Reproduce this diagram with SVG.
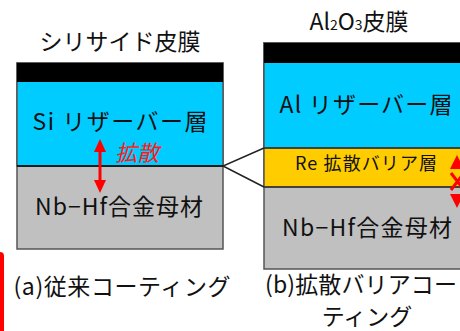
<svg xmlns="http://www.w3.org/2000/svg" width="460" height="331" viewBox="0 0 460 331">
<style>
text{font-family:"Noto Sans CJK JP","Liberation Sans",sans-serif;fill:#111;}
.t{font-size:23px;}
.box{stroke:#555;stroke-width:1.5;}
.red{fill:#ff0000;}
</style>
<rect width="460" height="331" fill="#fff"/>
<g id="left-stack">
  <rect class="box" x="17" y="63" width="206" height="186" fill="#c0c0c0"/>
  <rect x="17" y="63" width="206" height="103" fill="#00ccff" stroke="#555" stroke-width="1.5"/>
  <rect x="17" y="63" width="206" height="19" fill="#000"/>
  <line x1="17" y1="166" x2="223" y2="166" stroke="#000" stroke-width="1.5"/>
  <text class="t" x="120" y="50" text-anchor="middle">シリサイド皮膜</text>
  <text class="t" x="120" y="130" text-anchor="middle" textLength="175">Si リザーバー層</text>
  <text class="t" x="119" y="215" text-anchor="middle" textLength="168">Nb−Hf合金母材</text>
  <text class="t" x="122" y="295" text-anchor="middle" textLength="217">(a)従来コーティング</text>
</g>
<g id="left-diffusion">
  <line x1="100" y1="150" x2="100" y2="182" stroke="#ff0000" stroke-width="3"/>
  <polygon class="red" points="100,139 94,152 106,152"/>
  <polygon class="red" points="100,193 94,180 106,180"/>
  <text x="137" y="161" text-anchor="middle" font-size="22" font-style="italic" style="fill:#ff1a1a">拡散</text>
</g>
<g id="right-stack">
  <rect class="box" x="264" y="43" width="210" height="226" fill="#c0c0c0"/>
  <rect x="264" y="43" width="210" height="144" fill="#ffcc00" stroke="#555" stroke-width="1.5"/>
  <rect x="264" y="43" width="210" height="105" fill="#00ccff" stroke="#555" stroke-width="1.5"/>
  <rect x="264" y="43" width="210" height="20" fill="#000"/>
  <line x1="264" y1="148" x2="474" y2="148" stroke="#333" stroke-width="1.5"/>
  <line x1="264" y1="187" x2="474" y2="187" stroke="#333" stroke-width="1.5"/>
  <text class="t" x="359" y="30" text-anchor="middle">Al<tspan font-size="14">2</tspan>O<tspan font-size="14">3</tspan>皮膜</text>
  <text class="t" x="366" y="113" text-anchor="middle" textLength="173">Al リザーバー層</text>
  <text x="366" y="170" text-anchor="middle" font-size="18" textLength="142">Re 拡散バリア層</text>
  <text class="t" x="367" y="236" text-anchor="middle" textLength="170">Nb−Hf合金母材</text>
  <text class="t" x="265" y="293" textLength="192">(b)拡散バリアコー</text>
  <text class="t" x="367" y="325" text-anchor="middle">ティング</text>
</g>
<g id="right-blocked">
  <polygon class="red" points="457,155 450,169 464,169"/>
  <path d="M451,173 L464,190 M464,173 L451,190" stroke="#ff0000" stroke-width="3" fill="none"/>
  <polygon class="red" points="457,208 450,194 464,194"/>
</g>
<g id="connectors">
  <polyline points="264,148 223,166 264,187" fill="none" stroke="#222" stroke-width="1.5"/>
</g>
<g id="red-bar">
  <rect x="-10" y="252" width="14" height="100" rx="4" fill="#ff0000"/>
</g>
</svg>
